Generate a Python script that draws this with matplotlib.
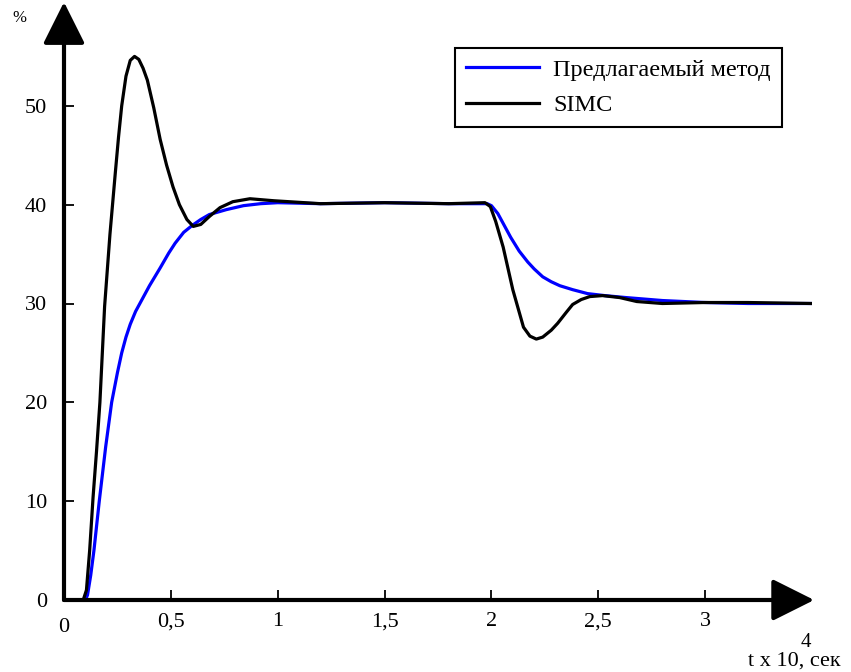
import matplotlib
matplotlib.use("Agg")
import matplotlib.pyplot as plt

plt.rcParams['font.family'] = ['Liberation Serif', 'DejaVu Serif']

# Предлагаемый метод (синяя)
t_blue = [0, 0.10, 0.11, 0.125, 0.14, 0.165, 0.195, 0.223, 0.25, 0.27, 0.29, 0.31,
          0.335, 0.36, 0.40, 0.45, 0.49, 0.52, 0.56, 0.60, 0.64, 0.68, 0.76, 0.84,
          0.92, 1.0, 1.2, 1.5, 1.8, 1.98, 2.0, 2.03, 2.06, 2.09, 2.13, 2.17,
          2.2, 2.24, 2.28, 2.32, 2.38, 2.45, 2.53, 2.63, 2.8, 3.0, 3.2, 3.5]
v_blue = [0, 0, 0.5, 2.5, 5, 10, 15.5, 20, 23, 25, 26.6, 27.9,
          29.2, 30.2, 31.8, 33.6, 35.1, 36.1, 37.2, 37.9, 38.5, 39.0, 39.5, 39.9,
          40.1, 40.2, 40.1, 40.2, 40.1, 40.1, 39.9, 39.1, 37.9, 36.7, 35.3, 34.2,
          33.5, 32.7, 32.2, 31.8, 31.4, 31.0, 30.8, 30.6, 30.3, 30.1, 30.0, 30.0]

# SIMC (чёрная)
t_simc = [0, 0.09, 0.105, 0.12, 0.136, 0.152, 0.168, 0.19, 0.215, 0.24, 0.255, 0.27,
          0.29, 0.31, 0.33, 0.35, 0.37, 0.39, 0.42, 0.45, 0.48, 0.51, 0.54, 0.575,
          0.605, 0.64, 0.68, 0.73, 0.79, 0.87, 0.98, 1.2, 1.5, 1.8, 1.97, 1.995,
          2.02, 2.055, 2.10, 2.15, 2.18, 2.21, 2.24, 2.28, 2.31, 2.35, 2.38, 2.42,
          2.46, 2.52, 2.6, 2.68, 2.8, 3.0, 3.2, 3.5]
v_simc = [0, 0, 1, 5, 10.4, 15, 20, 29.7, 37, 43.2, 46.8, 50,
          53, 54.6, 55, 54.7, 53.8, 52.6, 49.8, 46.6, 44, 41.8, 40, 38.5,
          37.8, 38.0, 38.8, 39.7, 40.3, 40.6, 40.4, 40.1, 40.2, 40.1, 40.2, 39.8,
          38.3, 35.7, 31.4, 27.6, 26.7, 26.4, 26.6, 27.3, 28, 29.1, 29.9, 30.4,
          30.7, 30.8, 30.6, 30.2, 30.0, 30.1, 30.1, 30.0]

x_ticks = [0.5, 1, 1.5, 2, 2.5, 3]
x_labels = ["0,5", "1", "1,5", "2", "2,5", "3"]
y_ticks = [0, 10, 20, 30, 40, 50]

W, H = 851, 672
fig = plt.figure(figsize=(W / 100, H / 100), dpi=100)
ax = fig.add_axes([64 / W, 72 / H, 748 / W, 593 / H])
ax.set_xlim(0, 3.5)
ax.set_ylim(0, 60)

ax.plot(t_blue, v_blue, color='#0000ff', lw=2.3, label='Предлагаемый метод')
ax.plot(t_simc, v_simc, color='black', lw=2.3, label='SIMC')

for s in ax.spines.values():
    s.set_visible(False)

# оси со стрелками
arrow = dict(arrowstyle='-|>,head_length=26,head_width=13', mutation_scale=1,
             lw=3, color='black', shrinkA=0, shrinkB=0)
ax.annotate('', xy=(0, 60.5), xytext=(0, 0), arrowprops=arrow, annotation_clip=False)
ax.annotate('', xy=(3.51, 0), xytext=(0, 0), arrowprops=arrow, annotation_clip=False)

ax.set_xticks(x_ticks)
ax.set_xticklabels(x_labels)
ax.set_yticks(y_ticks)
ax.tick_params(direction='in', length=7, width=1.3, labelsize=16)
ax.tick_params(axis='x', pad=9)
ax.tick_params(axis='y', pad=12)
fig.text(64 / W, 1 - 632 / H, "0", fontsize=16, ha='center', va='baseline')

leg = ax.legend(loc='upper left', bbox_to_anchor=(455 / W, 1 - 48 / H),
                bbox_transform=fig.transFigure, fontsize=17.5, frameon=True,
                fancybox=False, edgecolor='black', framealpha=1,
                handlelength=3.0, handletextpad=0.6, labelspacing=0.55,
                borderaxespad=0, borderpad=0.45)
leg.get_frame().set_linewidth(1.5)

fig.text(19 / W, 1 - 18 / H, "%", fontsize=12, ha='center', va='center')
fig.text(748 / W, 1 - 666 / H, "t x 10, сек", fontsize=16, ha='left', va='baseline')
fig.text(801 / W, 1 - 647 / H, "4", fontsize=15, ha='left', va='baseline')

fig.savefig("out.png", dpi=100)
